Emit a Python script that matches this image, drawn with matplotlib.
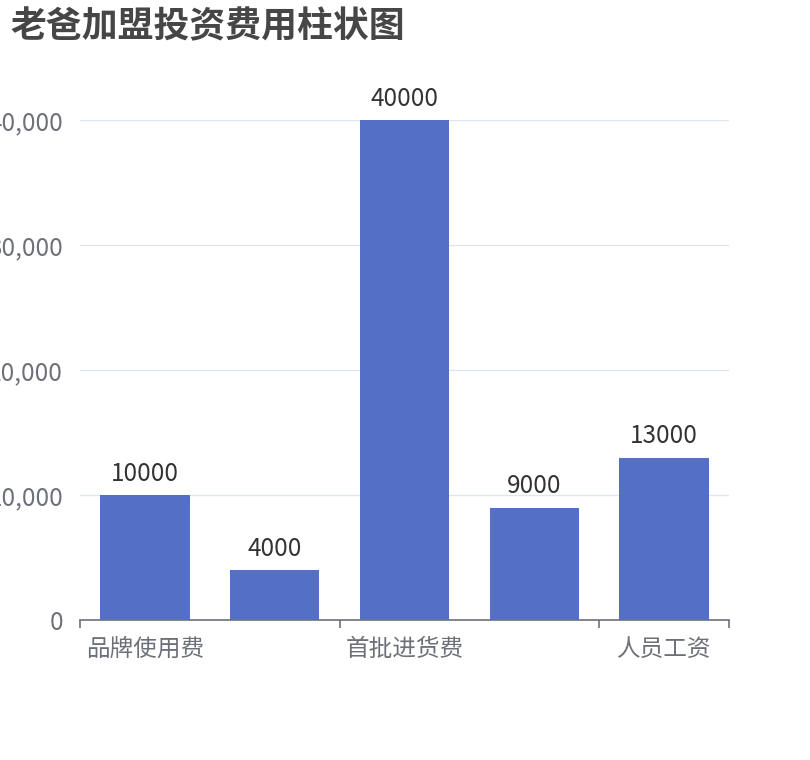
import matplotlib
matplotlib.use('Agg')
import matplotlib.pyplot as plt
from matplotlib.ticker import FuncFormatter

plt.rcParams['font.family'] = ['Noto Sans CJK SC', 'DejaVu Sans']

# 数据
categories = ['品牌使用费', '装修费用', '首批进货费', '设备费用', '人员工资']
values = [10000, 4000, 40000, 9000, 13000]
yticks = [0, 10000, 20000, 30000, 40000]

fig = plt.figure(figsize=(8.1, 7.6), dpi=100)
ax = fig.add_axes([80/810, 140/760, 649/810, 500/760])

x = range(len(categories))
bars = ax.bar(x, values, width=0.69, color='#5470c6', zorder=3)
for xi, v in zip(x, values):
    ax.annotate(str(v), (xi, v), xytext=(0, 6), textcoords='offset points',
                ha='center', va='bottom', fontsize=17.5, color='#333333')

ax.set_xlim(-0.5, len(categories) - 0.5)
ax.set_ylim(0, 40000)
ax.set_yticks(yticks)
ax.yaxis.set_major_formatter(FuncFormatter(lambda v, p: f'{int(v):,}'))
ax.grid(axis='y', color='#e0e6f1', lw=1, zorder=0)
ax.tick_params(axis='y', length=0, labelsize=17.5, labelcolor='#6e7079', pad=12)

# x轴：标签隔一个显示
ax.set_xticks([0, 2, 4])
ax.set_xticklabels([categories[i] for i in [0, 2, 4]], fontsize=17, color='#6e7079')
ax.set_xticks([-0.5, 1.5, 3.5, 4.5], minor=True)
ax.tick_params(axis='x', which='major', length=0, pad=13)
ax.tick_params(axis='x', which='minor', length=6, color='#6e7079', width=1.2)

for s in ['top', 'right', 'left']:
    ax.spines[s].set_visible(False)
ax.spines['bottom'].set_color('#6e7079')
ax.spines['bottom'].set_linewidth(1.2)

fig.text(10/810, 1 - 27/760, '老爸加盟投资费用柱状图', fontsize=25.8, fontweight='bold',
         color='#464646', va='center', ha='left')

fig.savefig('out.png', dpi=100)
